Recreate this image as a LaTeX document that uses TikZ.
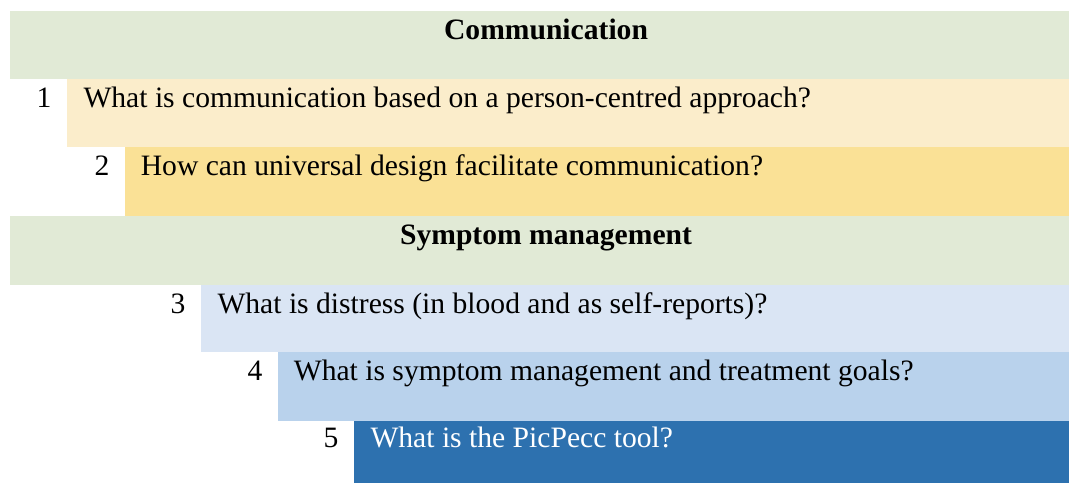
\documentclass[tikz,border=0pt]{standalone}
\usepackage{fontspec}
\setmainfont{Liberation Serif}
\usetikzlibrary{positioning}

\definecolor{headgreen}{HTML}{E1EAD6}
\definecolor{paleyellow}{HTML}{FBEDCB}
\definecolor{goldyellow}{HTML}{FAE196}
\definecolor{paleblue}{HTML}{DAE5F4}
\definecolor{midblue}{HTML}{B9D2EC}
\definecolor{deepblue}{HTML}{2D71AF}

\tikzset{every picture/.style={line width=0.75pt}}
\tikzset{
  band/.style 2 args={anchor=north west, inner sep=0pt, outer sep=0pt,
    minimum width=#1*0.75pt, minimum height=#2*0.75pt},
  qtext/.style={anchor=base west, inner sep=0pt, font=\fontsize{22.2}{27}\selectfont},
  qnum/.style={anchor=base, inner sep=0pt, font=\fontsize{22.2}{27}\selectfont},
  headtext/.style={anchor=base, inner sep=0pt, font=\fontsize{22.2}{27}\selectfont\bfseries}
}

\begin{document}
\begin{tikzpicture}[x=0.75pt,y=0.75pt,yscale=-1,xscale=1]
\useasboundingbox (0,0) rectangle (1069,483);

% Bands
\node[band={1059}{68}, fill=headgreen] (comm) at (10,11) {};
\node[band={1002}{68}, fill=paleyellow] (q1) at (67,79) {};
\node[band={944}{69}, fill=goldyellow] (q2) at (125,147) {};
\node[band={1059}{69}, fill=headgreen] (symp) at (10,216) {};
\node[band={868}{67}, fill=paleblue] (q3) at (201,285) {};
\node[band={791}{69}, fill=midblue] (q4) at (278,352) {};
\node[band={715}{62}, fill=deepblue] (q5) at (354,421) {};

% Headings
\node[headtext] (commtext) at ([xshift=4.9pt,yshift=21.5pt]comm.north) {Communication};
\node[headtext] (symptext) at ([xshift=4.9pt,yshift=21.5pt]symp.north) {Symptom management};

% Numbers
\node[qnum] (n1) at ([xshift=-17.25pt,yshift=21.5pt]q1.north west) {1};
\node[qnum] (n2) at ([xshift=-17.25pt,yshift=21.5pt]q2.north west) {2};
\node[qnum] (n3) at ([xshift=-17.25pt,yshift=21pt]q3.north west) {3};
\node[qnum] (n4) at ([xshift=-17.25pt,yshift=21pt]q4.north west) {4};
\node[qnum] (n5) at ([xshift=-17.25pt,yshift=20pt]q5.north west) {5};

% Questions
\node[qtext] (t1) at ([xshift=12pt,yshift=21.5pt]q1.north west) {What is communication based on a person-centred approach?};
\node[qtext] (t2) at ([xshift=11.5pt,yshift=21.5pt]q2.north west) {How can universal design facilitate communication?};
\node[qtext] (t3) at ([xshift=12pt,yshift=21pt]q3.north west) {What is distress (in blood and as self-reports)?};
\node[qtext] (t4) at ([xshift=11.5pt,yshift=21pt]q4.north west) {What is symptom management and treatment goals?};
\node[qtext, text=white] (t5) at ([xshift=12pt,yshift=20pt]q5.north west) {What is the PicPecc tool?};

\end{tikzpicture}
\end{document}
